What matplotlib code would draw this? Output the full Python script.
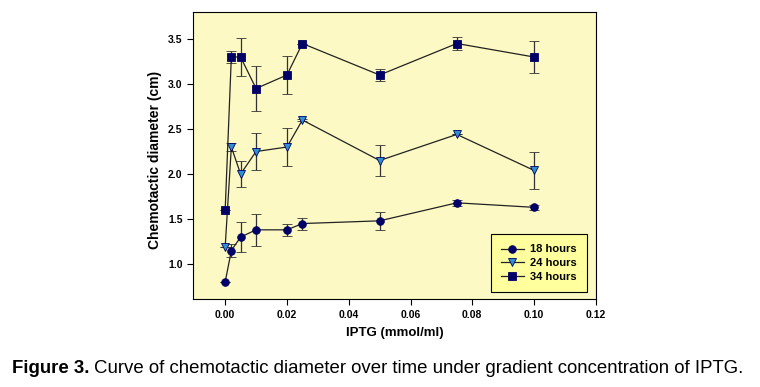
import matplotlib
matplotlib.use("Agg")
import matplotlib.pyplot as plt

# data
iptg = [0.0, 0.002, 0.005, 0.01, 0.02, 0.025, 0.05, 0.075, 0.10]

h18 = [0.80, 1.15, 1.30, 1.38, 1.38, 1.45, 1.48, 1.68, 1.63]
h18_err = [0.0, 0.07, 0.17, 0.175, 0.065, 0.067, 0.10, 0.03, 0.03]

h24 = [1.19, 2.30, 2.00, 2.25, 2.30, 2.60, 2.15, 2.44, 2.04]
h24_err = [0.0, 0.04, 0.14, 0.21, 0.21, 0.01, 0.17, 0.0, 0.21]

h34 = [1.60, 3.30, 3.30, 2.95, 3.10, 3.45, 3.10, 3.45, 3.30]
h34_err = [0.0, 0.065, 0.21, 0.245, 0.21, 0.0, 0.065, 0.07, 0.175]

xticks = [0.00, 0.02, 0.04, 0.06, 0.08, 0.10, 0.12]
yticks = [1.0, 1.5, 2.0, 2.5, 3.0, 3.5]

plt.rcParams['font.family'] = ['Liberation Sans', 'DejaVu Sans']

fig = plt.figure(figsize=(7.6, 3.87), dpi=100)
ax = fig.add_axes([0.254, 0.227, 0.530, 0.742])
ax.set_facecolor('#fcf9c4')

navy = '#000066'
series = [
    (h18, h18_err, 'o', navy, '18 hours', 5.5),
    (h24, h24_err, 'v', '#2f8fd0', '24 hours', 5.5),
    (h34, h34_err, 's', navy, '34 hours', 5.5),
]
for vals, errs, mk, fc, lab, ms in series:
    ax.errorbar(iptg, vals, yerr=errs, fmt='-', color='#222222', lw=0.9,
                ecolor='#333333', elinewidth=0.9, capsize=3.5, capthick=0.9,
                marker=mk, markersize=ms, markerfacecolor=fc,
                markeredgecolor=navy, markeredgewidth=0.6, label=lab)

ax.set_xlim(-0.0104, 0.12)
ax.set_ylim(0.61, 3.8)
ax.set_xticks(xticks)
ax.set_yticks(yticks)
ax.set_xticklabels(['%.2f' % t for t in xticks], fontweight='bold', fontsize=7.5)
ax.set_yticklabels(['%.1f' % t for t in yticks], fontweight='bold', fontsize=7.5)
ax.tick_params(direction='out', length=4, width=0.8)
ax.set_xlabel('IPTG (mmol/ml)', fontweight='bold', fontsize=9.5, labelpad=5)
ax.set_ylabel('Chemotactic diameter (cm)', fontweight='bold', fontsize=10)
ax.yaxis.set_label_coords(-0.077, 0.484)
for s in ax.spines.values():
    s.set_linewidth(0.8)

# legend built from the plotted lines, without error bars
handles, labels = ax.get_legend_handles_labels()
handles = [h[0] for h in handles]
leg = ax.legend(handles, labels, loc='lower right', bbox_to_anchor=(0.978, 0.024),
                borderaxespad=0, frameon=True, fancybox=False,
                facecolor='#ffff9e', edgecolor='black', framealpha=1,
                prop={'weight': 'bold', 'size': 8},
                handlelength=2.0, handletextpad=0.6, labelspacing=0.35, borderpad=0.9)
leg.get_frame().set_linewidth(0.8)

# caption, shrunk so it spans the same width as in the figure
cap_bold = 'Figure 3.'
cap_rest = 'Curve of chemotactic diameter over time under gradient concentration of IPTG.'
fs = 12.5
t1 = fig.text(0.016, 0.047, cap_bold, fontweight='bold', fontsize=fs, va='center', ha='left')
t2 = fig.text(0.1, 0.047, cap_rest, fontsize=fs, va='center', ha='left')
target = 745 - 12
for _ in range(3):
    fig.canvas.draw()
    b1 = t1.get_window_extent()
    t2.set_x((b1.x1 + 4) / fig.bbox.width)
    fig.canvas.draw()
    b2 = t2.get_window_extent()
    width = b2.x1 - b1.x0
    fs = fs * target / width
    t1.set_fontsize(fs)
    t2.set_fontsize(fs)
fig.canvas.draw()
b1 = t1.get_window_extent()
t2.set_x((b1.x1 + 4) / fig.bbox.width)

fig.savefig('out.png', dpi=100)
